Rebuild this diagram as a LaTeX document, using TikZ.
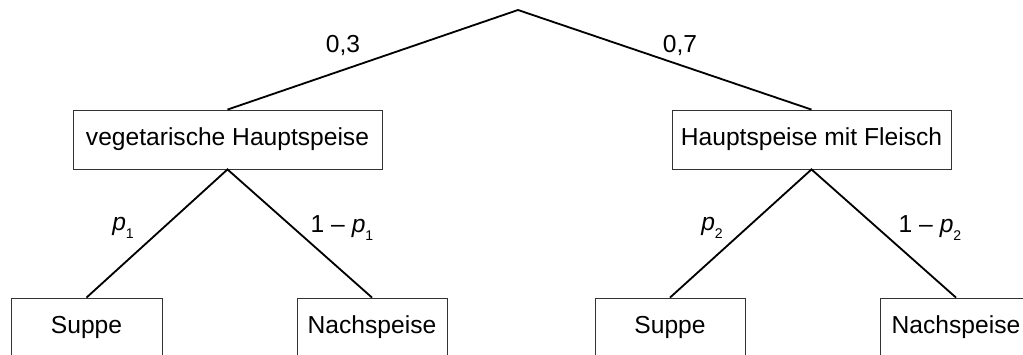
\documentclass[tikz,border=0pt]{standalone}
\usepackage{fontspec}
\setmainfont{Liberation Sans}
\usepackage{tikz}
\usetikzlibrary{calc}

\tikzset{
  dish/.style={draw=black!80, line width=0.6pt, inner sep=0pt, minimum height=1.475cm, font=\fontsize{17.5}{21}\selectfont},
  branch/.style={line width=1.3pt},
  prob/.style={font=\fontsize{17.5}{21}\selectfont}
}
\newcommand{\pvar}[1]{\textit{p}\raisebox{-0.65ex}{\fontsize{10}{12}\selectfont #1}}

\begin{document}
\begin{tikzpicture}
\clip (0, 0) rectangle (25.575, -8.85);
\coordinate (root) at (12.95, -0.25);
\node[dish, minimum width=7.725cm] (veg) at (5.6875, -3.4875) {vegetarische Hauptspeise};
\node[dish, minimum width=6.975cm] (meat) at (20.2875, -3.4875) {Hauptspeise mit Fleisch};
\node[dish, minimum width=3.775cm] (soup1) at (2.1625, -8.1875) {Suppe};
\node[dish, minimum width=3.75cm] (dessert1) at (9.3, -8.1875) {Nachspeise};
\node[dish, minimum width=3.75cm] (soup2) at (16.75, -8.1875) {Suppe};
\node[dish, minimum width=3.8cm] (dessert2) at (23.9, -8.1875) {Nachspeise};
\draw[branch] (veg.north) -- (root) -- (meat.north);
\draw[branch] (soup1.north) -- (veg.south) -- (dessert1.north);
\draw[branch] (soup2.north) -- (meat.south) -- (dessert2.north);
\node[prob] (pveg) at (8.575, -1.125) {0,3};
\node[prob] (pmeat) at (17.0, -1.125) {0,7};
\node[prob] (psoup1) at (3.075, -5.7) {\pvar{1}};
\node[prob] (pdessert1) at (8.55, -5.7) {1 -- \pvar{1}};
\node[prob] (psoup2) at (17.8, -5.7) {\pvar{2}};
\node[prob] (pdessert2) at (23.25, -5.7) {1 -- \pvar{2}};
\end{tikzpicture}
\end{document}
